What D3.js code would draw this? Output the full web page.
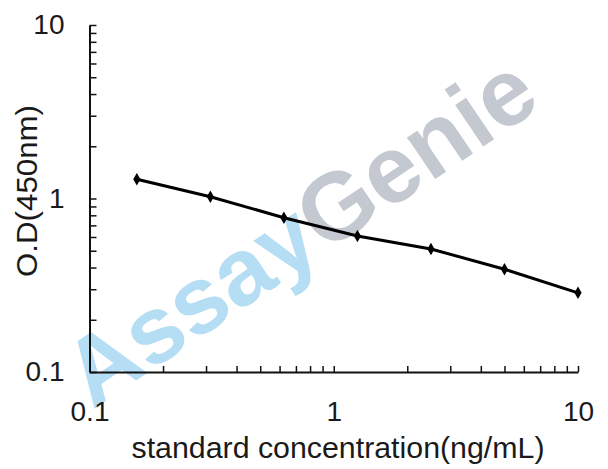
<!DOCTYPE html>
<html><head><meta charset="utf-8">
<script src="https://cdn.jsdelivr.net/npm/d3@7"></script>
<style>html,body{margin:0;padding:0;background:#fff;}svg{display:block;}</style>
</head><body>
<svg id="chart" width="608" height="469"></svg>
<script>
const concentrations = [0.15625, 0.3125, 0.625, 1.25, 2.5, 5, 10];
const odValues = [1.29, 1.024, 0.775, 0.608, 0.512, 0.391, 0.286];
const majorTicks = [0.1, 1, 10];
const xTitle = "standard concentration(ng/mL)";
const yTitle = "O.D(450nm)";
const watermarkA = "Assay";
const watermarkB = "Genie";

const svg = d3.select("#chart");
const x = d3.scaleLog().domain([0.1, 10]).range([89.5, 578]);
const y = d3.scaleLog().domain([0.1, 10]).range([372, 25]);
const font = "'Liberation Sans', Arial, sans-serif";

// watermark
const wm = svg.append("text")
  .attr("transform", "translate(318,258) rotate(-34)")
  .attr("text-anchor", "middle")
  .attr("font-family", font).attr("font-weight", "bold")
  .attr("font-size", 95);
wm.append("tspan").attr("fill", "#b5ddf3").text(watermarkA);
wm.append("tspan").attr("fill", "#c4c9d1").text(watermarkB);

const allTicks = [];
[0.1, 1].forEach(b => { for (let i = 1; i < 10; i++) allTicks.push(+(b * i).toPrecision(3)); });
allTicks.push(10);
const fmt = d => majorTicks.includes(d) ? String(d) : "";

const yAxis = svg.append("g").attr("transform", "translate(89.5,0)")
  .call(d3.axisLeft(y).tickValues(allTicks).tickFormat(fmt).tickSizeInner(-7).tickSizeOuter(0).tickPadding(25));
const xAxis = svg.append("g").attr("transform", "translate(0,372)")
  .call(d3.axisBottom(x).tickValues(allTicks).tickFormat(fmt).tickSizeInner(-6).tickSizeOuter(0).tickPadding(29));

[yAxis, xAxis].forEach(g => {
  g.select(".domain").attr("stroke", "#111").attr("stroke-width", 2);
  g.selectAll(".tick line").attr("stroke", "#111").attr("stroke-width", 1.5);
  g.selectAll(".tick text").attr("font-family", font).attr("font-size", 28).attr("fill", "#1a1a1a");
});

// line
const line = d3.line().x((d, i) => x(concentrations[i])).y(d => y(d));
svg.append("path").datum(odValues)
  .attr("d", line).attr("fill", "none").attr("stroke", "#000").attr("stroke-width", 3);
svg.selectAll(".pt").data(odValues).join("path").attr("class", "pt")
  .attr("transform", (d, i) => `translate(${x(concentrations[i])},${y(d)})`)
  .attr("d", d3.symbol().type(d3.symbolDiamond).size(45))
  .attr("fill", "#000");

// titles
svg.append("text").attr("x", 338).attr("y", 458)
  .attr("text-anchor", "middle").attr("font-family", font).attr("font-size", 29).attr("fill", "#1a1a1a")
  .attr("textLength", 413).attr("lengthAdjust", "spacingAndGlyphs")
  .text(xTitle);
svg.append("text").attr("transform", "translate(37,191) rotate(-90)")
  .attr("text-anchor", "middle").attr("font-family", font).attr("font-size", 29).attr("fill", "#1a1a1a")
  .attr("textLength", 172).attr("lengthAdjust", "spacingAndGlyphs")
  .text(yTitle);
</script>
</body></html>
